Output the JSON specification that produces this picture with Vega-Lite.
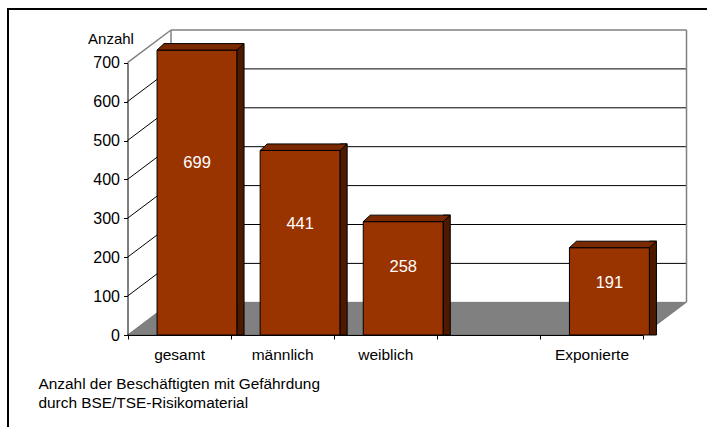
{
  "$schema": "https://vega.github.io/schema/vega-lite/v6.json",
  "width": 699,
  "height": 418,
  "autosize": {"type": "none"},
  "padding": {"left": 8, "top": 9, "right": 0, "bottom": 0},
  "background": "#ffffff",
  "config": {
    "view": {"stroke": "#000000", "strokeWidth": 2, "strokeDash": [699, 1117, 420, 0]},
    "font": "Liberation Sans"
  },
  "datasets": {
    "werte": [
      {"Gruppe": "gesamt", "Anzahl": 699},
      {"Gruppe": "männlich", "Anzahl": 441},
      {"Gruppe": "weiblich", "Anzahl": 258},
      {"Gruppe": "Exponierte", "Anzahl": 191}
    ],
    "gitter": [
      {"v": 100}, {"v": 200}, {"v": 300}, {"v": 400}, {"v": 500}, {"v": 600}, {"v": 700}
    ],
    "eins": [{"teil": "Rahmen"}]
  },
  "layer": [
    {
      "data": {"name": "eins"},
      "mark": {"type": "point", "shape": "M -1 0.0585 L 0.8444 0.0585 L 1 -0.0585 L -0.8444 -0.0585 Z", "size": 312481, "filled": true, "fill": "#808080", "stroke": "#5c5c5c", "strokeWidth": 0.6, "opacity": 1, "xOffset": 21.75, "yOffset": -16.35},
      "encoding": {
        "x": {"datum": "weiblich", "type": "nominal"},
        "y": {"datum": 0, "type": "quantitative"}
      }
    },
    {
      "data": {"name": "gitter"},
      "mark": {"type": "rule", "xOffset": 43.5, "x2Offset": 43.5, "yOffset": -32.7},
      "encoding": {
        "x": {"datum": "gesamt", "type": "nominal", "bandPosition": 0},
        "x2": {"datum": "Exponierte", "bandPosition": 1},
        "y": {"field": "v", "type": "quantitative"},
        "stroke": {"condition": {"test": "datum.v === 700", "value": "#808080"}, "value": "#000000"},
        "strokeWidth": {"condition": {"test": "datum.v === 700", "value": 1.5}, "value": 1}
      }
    },
    {
      "data": {"name": "gitter"},
      "mark": {"type": "rule", "x2Offset": 43.5, "y2Offset": -32.7},
      "encoding": {
        "x": {"datum": "gesamt", "type": "nominal", "bandPosition": 0},
        "x2": {"datum": "gesamt", "bandPosition": 0},
        "y": {"field": "v", "type": "quantitative"},
        "y2": {"field": "v"},
        "stroke": {"condition": {"test": "datum.v === 700", "value": "#808080"}, "value": "#000000"},
        "strokeWidth": {"condition": {"test": "datum.v === 700", "value": 1.5}, "value": 1}
      }
    },
    {
      "data": {"name": "eins"},
      "mark": {"type": "rule", "xOffset": 43.5, "yOffset": -32.7, "y2Offset": -32.7, "stroke": "#808080", "strokeWidth": 1.5},
      "encoding": {
        "x": {"datum": "gesamt", "type": "nominal", "bandPosition": 0},
        "y": {"datum": 0, "type": "quantitative"},
        "y2": {"datum": 700}
      }
    },
    {
      "data": {"name": "eins"},
      "mark": {"type": "rule", "xOffset": 43.5, "yOffset": -32.7, "y2Offset": -32.7, "stroke": "#808080", "strokeWidth": 1.5},
      "encoding": {
        "x": {"datum": "Exponierte", "type": "nominal", "bandPosition": 1},
        "y": {"datum": 0, "type": "quantitative"},
        "y2": {"datum": 700}
      }
    },
    {
      "data": {"name": "werte"},
      "mark": {"type": "bar", "width": 80, "xOffset": 18, "yOffset": -13, "y2Offset": -13, "fill": "#993300", "stroke": "#000000", "strokeWidth": 1},
      "encoding": {
        "x": {
          "field": "Gruppe",
          "type": "nominal",
          "scale": {"domain": ["gesamt", "männlich", "weiblich", " ", "Exponierte"], "range": [119.5, 635], "paddingInner": 0, "paddingOuter": 0},
          "title": ["Anzahl der Beschäftigten mit Gefährdung", "durch BSE/TSE-Risikomaterial"],
          "axis": {
            "orient": "bottom", "offset": -92, "zindex": 1,
            "domainColor": "#000000", "domainWidth": 1,
            "tickColor": "#000000", "tickSize": 4, "tickBand": "extent",
            "labelFontSize": 15.5, "labelColor": "#000000", "labelPadding": 8, "labelAngle": 0, "labelAlign": "center", "labelBaseline": "top",
            "grid": false,
            "titleX": 30, "titleY": 53, "titleAlign": "left", "titleAnchor": "start", "titleBaseline": "alphabetic",
            "titleFontSize": 15.4, "titleFontWeight": "normal", "titleColor": "#000000", "titleLineHeight": 19, "titleLimit": 0
          }
        },
        "y": {
          "field": "Anzahl",
          "type": "quantitative",
          "stack": null,
          "scale": {"domain": [0, 700], "range": [326, 53.7], "nice": false},
          "title": "Anzahl",
          "axis": {
            "orient": "left", "offset": -119.5, "zindex": 1,
            "values": [0, 100, 200, 300, 400, 500, 600, 700],
            "domainColor": "#000000", "tickColor": "#000000", "tickSize": 4,
            "labelFontSize": 16, "labelColor": "#000000", "labelPadding": 4,
            "grid": false,
            "titleAngle": 0, "titleX": -17, "titleY": 34.3, "titleAlign": "center", "titleBaseline": "alphabetic",
            "titleFontSize": 15, "titleFontWeight": "normal", "titleColor": "#000000"
          }
        }
      }
    },
    {
      "data": {"name": "werte"},
      "mark": {"type": "bar", "width": 7, "xOffset": 61.5, "yOffset": -19.5, "y2Offset": -16.25, "fill": "#4d1a00", "stroke": "#000000", "strokeWidth": 1},
      "encoding": {
        "x": {"field": "Gruppe", "type": "nominal"},
        "y": {"field": "Anzahl", "type": "quantitative", "stack": null}
      }
    },
    {
      "data": {"name": "werte"},
      "mark": {"type": "point", "shape": "M -1 0.0747 L 0.839 0.0747 L 1 -0.0747 L -0.839 -0.0747 Z", "size": 7569, "filled": true, "fill": "#7a2900", "stroke": "#000000", "strokeWidth": 1, "opacity": 1, "xOffset": 21.5, "yOffset": -16.25},
      "encoding": {
        "x": {"field": "Gruppe", "type": "nominal"},
        "y": {"field": "Anzahl", "type": "quantitative"}
      }
    },
    {
      "data": {"name": "werte"},
      "mark": {"type": "text", "color": "#ffffff", "fontSize": 16.5, "baseline": "middle", "align": "center", "xOffset": 18, "yOffset": -6.65},
      "encoding": {
        "x": {"field": "Gruppe", "type": "nominal"},
        "y": {"field": "Anzahl", "type": "quantitative", "stack": "zero", "bandPosition": 0.609},
        "text": {"field": "Anzahl", "type": "quantitative"}
      }
    }
  ]
}
